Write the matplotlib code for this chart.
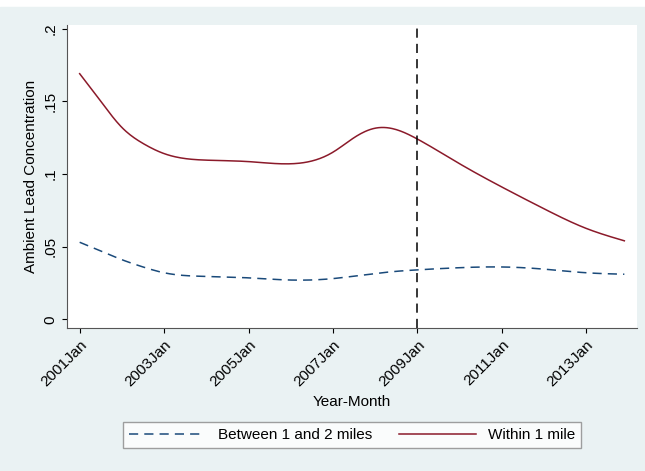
import matplotlib.pyplot as plt
import numpy as np

plt.rcParams['font.family'] = ['Liberation Sans', 'DejaVu Sans']

# year positions and read-off values
years = [2001.0, 2001.5, 2002.0, 2002.5, 2003.0, 2004.0, 2005.0, 2006.0, 2007.0, 2007.5, 2008.0, 2008.5, 2009.0, 2010.0, 2011.0, 2012.0, 2013.0, 2013.9]
within_1 = [0.169, 0.150, 0.132, 0.121, 0.114, 0.1095, 0.1085, 0.107, 0.115, 0.125, 0.1315, 0.1305, 0.124, 0.107, 0.091, 0.076, 0.0625, 0.054]
between_1_2 = [0.053, 0.047, 0.041, 0.036, 0.032, 0.0295, 0.0285, 0.027, 0.028, 0.0297, 0.0315, 0.033, 0.034, 0.0355, 0.036, 0.0345, 0.032, 0.031]
tick_years = [2001, 2003, 2005, 2007, 2009, 2011, 2013]
tick_labels = [f"{y}Jan" for y in tick_years]


def spline(x, y, xs):
    # natural cubic spline
    x = np.asarray(x, float); y = np.asarray(y, float)
    n = len(x); h = np.diff(x)
    A = np.zeros((n, n)); b = np.zeros(n)
    A[0, 0] = A[-1, -1] = 1
    for i in range(1, n - 1):
        A[i, i - 1] = h[i - 1]; A[i, i] = 2 * (h[i - 1] + h[i]); A[i, i + 1] = h[i]
        b[i] = 6 * ((y[i + 1] - y[i]) / h[i] - (y[i] - y[i - 1]) / h[i - 1])
    M = np.linalg.solve(A, b)
    k = np.clip(np.searchsorted(x, xs) - 1, 0, n - 2)
    t = xs - x[k]; hk = h[k]
    a = (M[k + 1] - M[k]) / (6 * hk)
    c = (y[k + 1] - y[k]) / hk - hk * (2 * M[k] + M[k + 1]) / 6
    return y[k] + c * t + M[k] / 2 * t ** 2 + a * t ** 3


bg = '#eaf2f3'
fig = plt.figure(figsize=(6.45, 4.71), dpi=100)
fig.patch.set_facecolor('white')
fig.patches.append(plt.Rectangle((0, 0), 1, 1 - 7/471, transform=fig.transFigure, color=bg, zorder=-10))
ax = fig.add_axes([67/645, 1 - 328/471, 570/645, 303/471])
ax.set_facecolor('white')

xs = np.linspace(years[0], years[-1], 400)
ax.plot(xs, spline(years, between_1_2, xs), color='#1a4a7a', ls=(0, (6, 4)), lw=1.1, label='Between 1 and 2 miles')
ax.plot(xs, spline(years, within_1, xs), color='#8b1a2a', lw=1.1, label='Within 1 mile')
ax.axvline(2009, color='black', ls=(0, (6, 4)), lw=1.1)

ax.set_xlim(2000.7, 2014.2)
ax.set_ylim(-0.006, 0.2025)
ax.set_xticks(tick_years)
ax.set_xticklabels(tick_labels, rotation=45, ha='right', rotation_mode='anchor', fontsize=11)
ax.set_yticks([0, 0.05, 0.1, 0.15, 0.2])
ax.set_yticklabels(['0', '.05', '.1', '.15', '.2'], rotation=90, va='center', fontsize=11)
for s in ['top', 'right']:
    ax.spines[s].set_visible(False)
ax.spines['bottom'].set_color('#555555')
ax.spines['left'].set_color('#555555')
ax.set_xlabel('Year-Month', fontsize=11)
ax.set_ylabel('Ambient Lead Concentration', fontsize=11)
ax.legend(loc='upper center', bbox_to_anchor=(0.5, -0.285), ncol=2, frameon=True, fancybox=False,
          edgecolor='#888888', fontsize=11, handlelength=5, columnspacing=1.8)
fig.savefig('out.png', dpi=100, facecolor=fig.get_facecolor())
